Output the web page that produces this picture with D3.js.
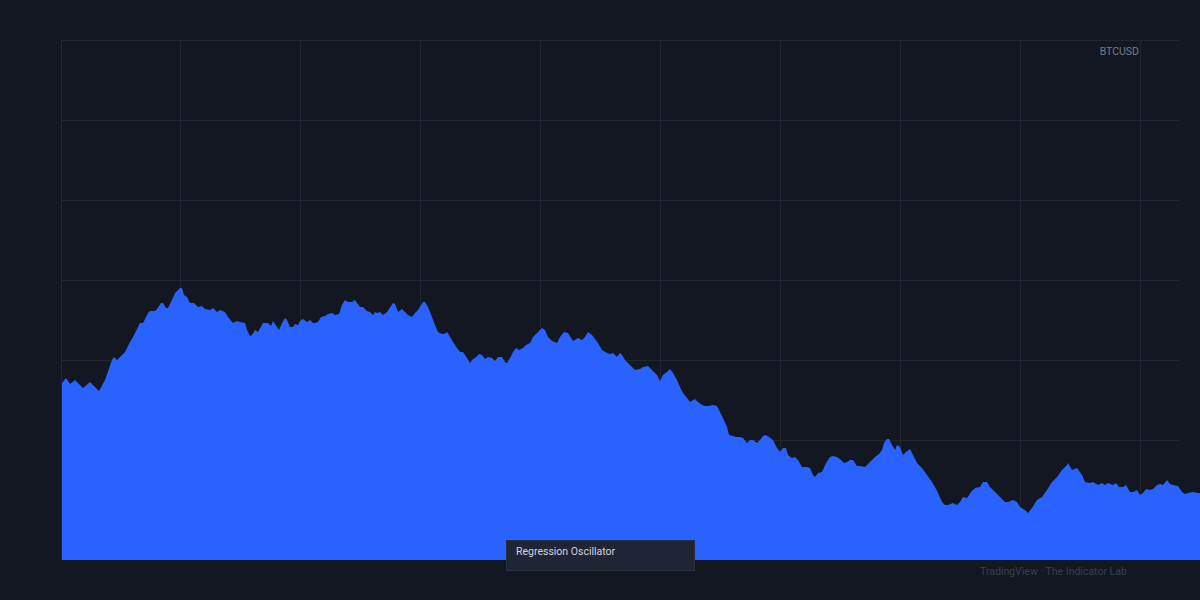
<!DOCTYPE html>
<html>
<head>
<meta charset="utf-8">
<script src="https://cdn.jsdelivr.net/npm/d3@7"></script>
<style>
    html, body { margin: 0; padding: 0; background: #131722; }
    svg { display: block; font-family: Roboto, "Noto Sans", sans-serif; }
</style>
</head>
<body>
<svg id="chart" width="1200" height="600"></svg>
<script>
// bar index (from first visible bar) and oscillator height
const bars = [0, 4, 8, 13, 21, 28, 37, 43, 50, 52, 55, 58, 63, 68, 71, 78, 81, 86, 88, 93, 95, 99, 101, 104, 106, 110,
    113, 118, 120, 122, 125, 128, 132, 136, 140, 143, 148, 151, 155, 158, 163, 166, 171, 175, 178, 183, 185, 188, 190,
    193, 196, 201, 206, 209, 211, 215, 217, 220, 223, 225, 228, 231, 233, 236, 238, 241, 245, 248, 251, 253, 256, 259,
    263, 266, 270, 273, 277, 280, 283, 286, 290, 293, 295, 298, 301, 305, 308, 311, 313, 315, 318, 321, 325, 331, 333,
    336, 340, 343, 346, 350, 353, 356, 361, 363, 366, 370, 373, 376, 380, 382, 385, 387, 391, 395, 398, 401, 405, 408,
    411, 413, 417, 420, 423, 426, 430, 433, 436, 440, 443, 445, 448, 451, 454, 457, 461, 464, 468, 471, 475, 480, 483,
    486, 490, 495, 498, 502, 506, 511, 516, 520, 523, 526, 530, 533, 536, 540, 545, 548, 551, 555, 558, 560, 563, 566,
    570, 573, 578, 581, 586, 590, 595, 598, 601, 605, 608, 611, 615, 618, 621, 625, 628, 633, 636, 640, 643, 646, 651,
    655, 658, 661, 665, 667, 671, 674, 678, 681, 685, 688, 691, 695, 698, 701, 704, 707, 711, 715, 718, 721, 724, 726,
    730, 733, 736, 740, 745, 748, 751, 753, 756, 760, 764, 768, 771, 775, 779, 782, 785, 788, 791, 795, 798, 803, 808,
    813, 817, 820, 822, 825, 827, 830, 833, 835, 838, 841, 845, 848, 851, 855, 860, 865, 870, 873, 876, 880, 883, 886,
    891, 895, 898, 901, 905, 909, 913, 918, 921, 925, 928, 933, 938, 943, 946, 951, 955, 958, 963, 966, 970, 975, 980,
    985, 990, 995, 1000, 1005, 1006, 1010, 1015, 1020, 1023, 1028, 1031, 1036, 1040, 1043, 1046, 1051, 1054, 1057,
    1061, 1064, 1068, 1071, 1075, 1078, 1081, 1084, 1088, 1091, 1095, 1098, 1101, 1105, 1108, 1111, 1116, 1120, 1123,
    1126, 1131, 1136, 1138];
const osc = [177, 182, 176, 180, 172, 178, 169, 180, 200, 203, 200, 203, 208, 218, 223, 237, 237, 247, 249, 249, 251,
    257, 257, 252, 252, 260, 267, 272, 272, 265, 263, 257, 257, 253, 254, 251, 250, 252, 248, 250, 248, 243, 237, 239,
    238, 237, 230, 224, 225, 230, 228, 237, 237, 234, 239, 233, 230, 237, 242, 240, 233, 233, 236, 235, 239, 241, 238,
    240, 237, 237, 238, 243, 244, 246, 247, 245, 246, 255, 260, 258, 258, 260, 257, 253, 253, 249, 248, 245, 248, 247,
    248, 245, 248, 257, 256, 248, 251, 248, 245, 243, 247, 250, 258, 258, 253, 243, 235, 228, 226, 226, 228, 225, 218,
    212, 208, 208, 202, 197, 201, 202, 206, 205, 201, 203, 202, 199, 203, 203, 198, 197, 202, 208, 212, 210, 212, 215,
    217, 223, 227, 232, 230, 223, 219, 217, 223, 228, 227, 219, 222, 220, 223, 228, 225, 221, 217, 210, 207, 206, 207,
    203, 207, 205, 200, 197, 193, 190, 191, 193, 194, 190, 185, 179, 185, 188, 191, 187, 180, 173, 167, 162, 158, 161,
    158, 155, 154, 154, 155, 154, 148, 142, 133, 125, 124, 123, 123, 122, 117, 120, 120, 117, 120, 124, 125, 123, 120,
    112, 108, 112, 112, 105, 102, 103, 100, 93, 93, 92, 85, 83, 87, 88, 97, 103, 104, 103, 100, 97, 98, 100, 100, 94,
    94, 93, 98, 103, 106, 110, 117, 121, 121, 115, 110, 115, 113, 105, 109, 111, 105, 97, 92, 85, 78, 73, 67, 58, 55,
    55, 57, 55, 58, 63, 62, 68, 72, 73, 78, 78, 73, 68, 63, 58, 58, 60, 58, 53, 50, 47, 52, 60, 63, 70, 78, 83, 90, 95,
    97, 90, 92, 85, 78, 77, 78, 75, 77, 75, 77, 75, 77, 73, 73, 75, 68, 68, 70, 65, 67, 71, 70, 71, 75, 76, 75, 80, 76,
    75, 74, 68, 66, 67, 68, 67, 67];
const gridValues = [40, 120, 200, 280, 360, 440, 520];
const gridBars = [118, 238, 358, 478, 598, 718, 838, 958, 1078];

const symbol = 'BTCUSD';
const paneTitle = 'Regression Oscillator';
const credit = 'TradingView · The Indicator Lab';

const series = bars.map((b, i) => ({bar: b, value: osc[i]}));

const svg = d3.select('#chart');
const plotLeft = 61, plotTop = 40, plotBottom = 560, gridRight = 1180;

const x = d3.scaleLinear().domain([0, 1138]).range([62, 1200]);
const y = d3.scaleLinear().domain([0, 520]).range([plotBottom, plotTop]);

svg.append('rect')
    .attr('width', 1200)
    .attr('height', 600)
    .attr('fill', '#131722');

// grid
const grid = svg.append('g')
    .attr('stroke', '#232632')
    .attr('stroke-width', 1)
    .attr('shape-rendering', 'crispEdges');

grid.selectAll('line.h')
    .data(gridValues)
    .enter()
    .append('line')
    .attr('class', 'h')
    .attr('x1', plotLeft)
    .attr('x2', gridRight)
    .attr('y1', d => Math.round(y(d)) + 0.5)
    .attr('y2', d => Math.round(y(d)) + 0.5);

grid.selectAll('line.v')
    .data(gridBars)
    .enter()
    .append('line')
    .attr('class', 'v')
    .attr('x1', d => Math.round(x(d)) + 0.5)
    .attr('x2', d => Math.round(x(d)) + 0.5)
    .attr('y1', plotTop)
    .attr('y2', plotBottom);

grid.append('line')
    .attr('x1', plotLeft + 0.5)
    .attr('x2', plotLeft + 0.5)
    .attr('y1', plotTop)
    .attr('y2', plotBottom);

// oscillator area
const area = d3.area()
    .x(d => x(d.bar))
    .y0(plotBottom)
    .y1(d => y(d.value))
    .curve(d3.curveLinear);

svg.append('path')
    .datum(series)
    .attr('d', area)
    .attr('fill', '#2962ff');

// labels
svg.append('text')
    .attr('x', 1139)
    .attr('y', 55)
    .attr('text-anchor', 'end')
    .attr('font-size', 10.5)
    .attr('fill', '#787b86')
    .text(symbol);

svg.append('rect')
    .attr('x', 506.5)
    .attr('y', 540.5)
    .attr('width', 188)
    .attr('height', 30)
    .attr('fill', '#1f2534')
    .attr('stroke', '#2a3040');

svg.append('text')
    .attr('x', 516)
    .attr('y', 555)
    .attr('font-size', 10.5)
    .attr('fill', '#d1d4dc')
    .text(paneTitle);

svg.append('text')
    .attr('x', 980)
    .attr('y', 575)
    .attr('font-size', 10.5)
    .attr('fill', '#3b3f4c')
    .text(credit);
</script>
</body>
</html>
